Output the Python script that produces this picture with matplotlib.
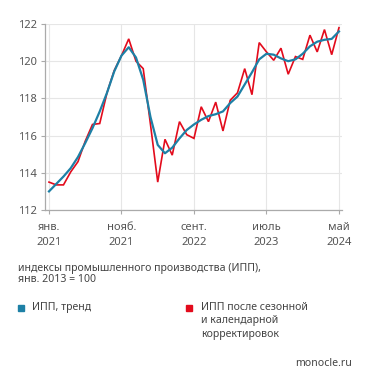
import matplotlib
matplotlib.use("Agg")
import matplotlib.pyplot as plt
from matplotlib.patches import Rectangle

plt.rcParams['font.family'] = ['Noto Sans', 'DejaVu Sans']

# monthly data, Jan 2021 .. May 2024
months = list(range(41))
ipp_sa = [113.5, 113.35, 113.35, 114.05, 114.6, 115.7, 116.6, 116.65, 118.3, 119.5,
          120.3, 121.2, 120.0, 119.6, 116.6, 113.5, 115.8, 114.95, 116.75, 116.05,
          115.85, 117.55, 116.75, 117.8, 116.25, 117.9, 118.3, 119.6, 118.2, 121.0,
          120.5, 120.05, 120.7, 119.3, 120.25, 120.1, 121.4, 120.5, 121.7, 120.35,
          121.8]
ipp_trend = [113.0, 113.4, 113.8, 114.25, 114.85, 115.6, 116.4, 117.3, 118.3, 119.45,
             120.3, 120.75, 120.2, 119.0, 117.0, 115.5, 115.05, 115.35, 115.85, 116.3,
             116.6, 116.85, 117.05, 117.15, 117.3, 117.75, 118.1, 118.75, 119.4, 120.1,
             120.4, 120.35, 120.15, 120.0, 120.1, 120.4, 120.8, 121.05, 121.15, 121.2,
             121.6]
tick_pos = [0, 10, 20, 30, 40]
tick_labels = ['янв.\n2021', 'нояб.\n2021', 'сент.\n2022', 'июль\n2023', 'май\n2024']
y_ticks = [112, 114, 116, 118, 120, 122]

BLUE = '#1d80a6'
RED = '#e30b1c'
TXT = '#555555'
GRID = '#e6e6e6'

W, H = 371, 385
fig = plt.figure(figsize=(W / 100, H / 100), dpi=100)
ax = fig.add_axes([45 / W, 1 - 210 / H, (342 - 45) / W, (210 - 24) / H])

ax.plot(months, ipp_sa, color=RED, lw=1.2, solid_joinstyle='miter', zorder=3)
ax.plot(months, ipp_trend, color=BLUE, lw=1.6, solid_joinstyle='round', zorder=4)

ax.set_xlim(-0.55, 40.42)
ax.set_ylim(112, 122)
ax.set_xticks(tick_pos)
ax.set_xticklabels(tick_labels, fontsize=8, color=TXT, linespacing=1.45)
ax.set_yticks(y_ticks)
ax.set_yticklabels([str(v) for v in y_ticks], fontsize=8, color=TXT)
ax.grid(True, color=GRID, lw=0.8)
ax.set_axisbelow(True)
for s in ['top', 'right']:
    ax.spines[s].set_visible(False)
for s in ['left', 'bottom']:
    ax.spines[s].set_color('#aaaaaa')
    ax.spines[s].set_linewidth(0.9)
ax.tick_params(axis='y', colors='#aaaaaa', length=3, width=0.8, labelcolor=TXT, pad=3)
ax.tick_params(axis='x', colors='#aaaaaa', length=3, width=0.8, labelcolor=TXT, pad=6)

fig.text(18 / W, 1 - 274 / H, 'индексы промышленного производства (ИПП),\nянв. 2013 = 100',
         fontsize=7.6, color='#444444', va='center', linespacing=1.12)

# legend
fig.patches.append(Rectangle((18 / W, 1 - 311 / H), 6 / W, 6 / H, transform=fig.transFigure,
                             color=BLUE, figure=fig))
fig.text(32 / W, 1 - 307.5 / H, 'ИПП, тренд', fontsize=7.6, color='#444444', va='center')
fig.patches.append(Rectangle((186 / W, 1 - 311 / H), 6 / W, 6 / H, transform=fig.transFigure,
                             color=RED, figure=fig))
fig.text(201 / W, 1 - 321 / H, 'ИПП после сезонной\nи календарной\nкорректировок',
         fontsize=7.6, color='#444444', va='center', linespacing=1.25)

fig.text(352 / W, 1 - 363 / H, 'monocle.ru', fontsize=7.6, color='#444444',
         ha='right', va='center')

fig.savefig('out.png', dpi=100, facecolor='white')
